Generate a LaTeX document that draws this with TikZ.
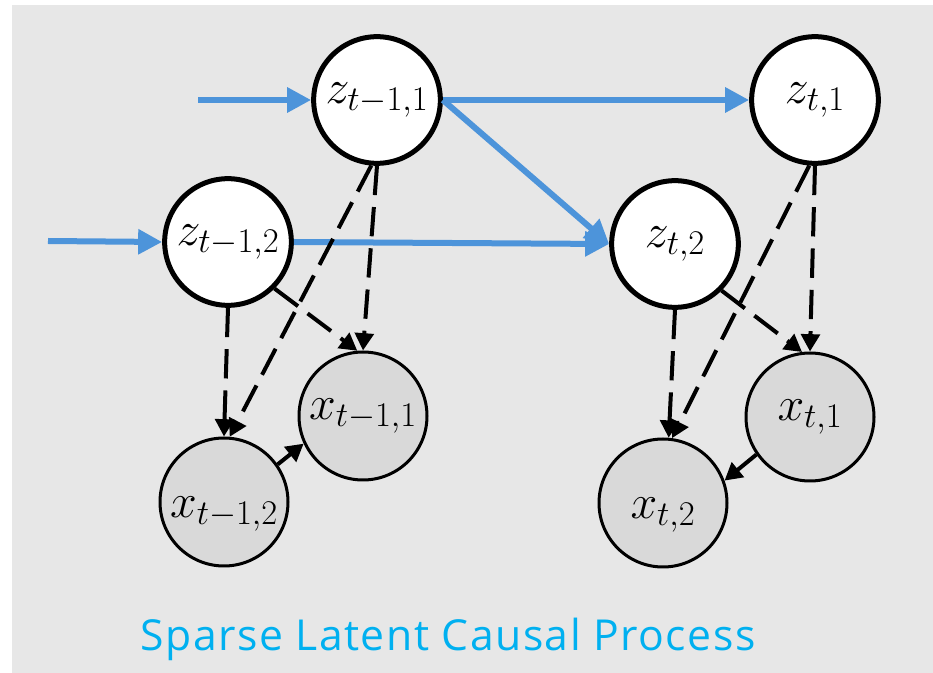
\RequirePackage{fix-cm}
\documentclass[tikz,border=0pt]{standalone}
\usepackage{fontspec}
\usetikzlibrary{arrows.meta}
\newfontfamily\captionfont[LetterSpace=3.5]{Open Sans}
\DeclareMathSizes{36}{36}{26}{20}
\definecolor{panelgray}{RGB}{231,231,231}
\definecolor{obsgray}{RGB}{217,217,217}
\definecolor{causeblue}{RGB}{77,148,218}
\definecolor{captioncyan}{RGB}{0,176,240}
\tikzset{
  mathtext/.style={font=\fontsize{36}{40}\selectfont},
  latent/.style={circle, draw=black, line width=3.75pt, fill=white, minimum size=95pt, inner sep=0, mathtext},
  observed/.style={circle, draw=black, line width=2.25pt, fill=obsgray, minimum size=96pt, inner sep=0, mathtext},
  % observation whose symbol sits low in its circle
  lowobserved/.style={observed, label={[mathtext, inner sep=0, yshift=-9pt]center:#1}},
  temporal/.style={draw=causeblue, line width=4.5pt, -{Triangle[length=18pt, width=18pt]}},
  emission/.style={draw=black, line width=3pt, dash pattern=on 22pt off 9pt, -{Triangle[length=13pt, width=14pt]}},
  instant/.style={draw=black, line width=3pt, -{Triangle[length=13pt, width=14pt]}}
}
\begin{document}
\begin{tikzpicture}[x=0.75pt, y=-0.75pt]
  \useasboundingbox (0,0) rectangle (933,673);
  \fill[panelgray] (12,5) rectangle (933,673);

  % latent variables
  \node[latent] (z11) at (377,100) {$z_{t-1,1}$};
  \node[latent] (z12) at (228,242) {$z_{t-1,2}$};
  \node[latent] (z21) at (815,100) {$z_{t,1}$};
  \node[latent] (z22) at (675,244) {$z_{t,2}$};

  % observations
  \node[observed] (x11) at (363,416) {$x_{t-1,1}$};
  \node[lowobserved={$x_{t-1,2}$}] (x12) at (224,502) {};
  \node[observed] (x21) at (810,417) {$x_{t,1}$};
  \node[lowobserved={$x_{t,2}$}] (x22) at (663,503) {};

  % incoming history
  \coordinate (in1) at (198,100);
  \coordinate (in2) at (48,241);

  % temporal transitions
  \draw[temporal] (in1) -- (z11.west);
  \draw[temporal] (in2) -- (z12.west);
  \draw[temporal] (z11.east) -- (z21.west);
  \draw[temporal] (z11.east) -- (z22.west);
  \draw[temporal] (z12.east) -- (z22.west);

  % mixing into observations
  \draw[emission] (z11.south) -- (x11.north);
  \draw[emission] (z11.-95) -- (x12.85);
  \draw[emission] (z12.south) -- (x12.north);
  \draw[emission] (z12.-45) -- (x11.95);
  \draw[emission] (z21.south) -- (x21.north);
  \draw[emission] (z21.-95) -- (x22.82);
  \draw[emission] (z22.south) -- (x22.85);
  \draw[emission] (z22.-45) -- (x21.97);

  % instantaneous effects among observations
  \draw[instant] (x12.35) -- (x11.205);
  \draw[instant] (x21.215) -- (x22.20);

  \node[text=captioncyan, font=\captionfont\fontsize{32}{38}\selectfont, anchor=base]
    (caption) at (448,651) {Sparse Latent Causal Process};
\end{tikzpicture}
\end{document}
